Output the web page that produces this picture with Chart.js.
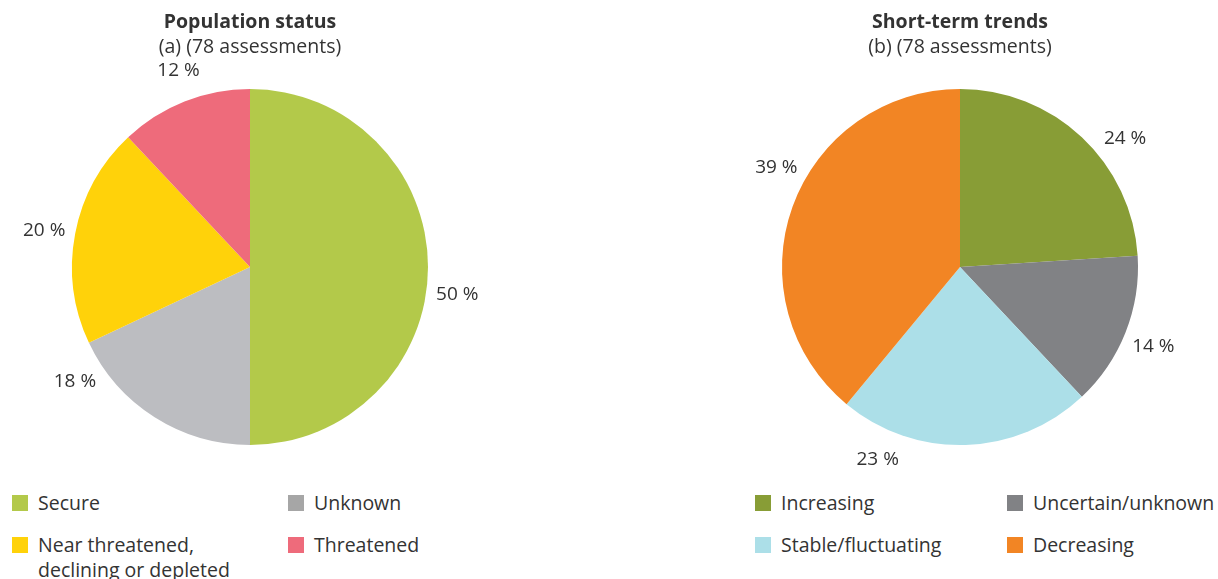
<!DOCTYPE html>
<html>
<head>
<meta charset="utf-8">
<script src="https://cdn.jsdelivr.net/npm/chart.js@4.4.1/dist/chart.umd.min.js"></script>
<style>
  body { margin: 0; background: #fff; font-family: "Open Sans", sans-serif; color: #333; }
  .panel { position: absolute; top: 0; width: 500px; height: 579px; }
  .panel canvas { position: absolute; left: 0; top: 0; }
  .title { position: absolute; top: 8px; left: 0; width: 500px; text-align: center; font-size: 19.5px; line-height: 25px; }
  .title b { font-weight: 700; }
  .legend { position: absolute; top: 490px; font-size: 19.5px; line-height: 25px; }
  .legend .item { position: absolute; white-space: nowrap; }
  .legend .box { position: absolute; left: 0; top: 5px; width: 16px; height: 16px; }
  .legend .txt { position: absolute; top: 0; }
</style>
</head>
<body>

<div class="panel" id="panelA" style="left:0">
  <canvas id="statusChart" width="500" height="470"></canvas>
  <div class="title"><b>Population status</b><br>(a) (78 assessments)</div>
  <div class="legend" id="legendA"></div>
</div>

<div class="panel" id="panelB" style="left:710px">
  <canvas id="trendChart" width="500" height="470"></canvas>
  <div class="title"><b>Short-term trends</b><br>(b) (78 assessments)</div>
  <div class="legend" id="legendB"></div>
</div>

<script>
// population status (a)
const statusLabels = ["Secure", "Unknown", "Near threatened,\ndeclining or depleted", "Threatened"];
const statusValues = [50, 18, 20, 12];
const statusColors = ["#b3c94a", "#bcbdc1", "#ffd20a", "#ee6b7b"];
const statusLegendColors = ["#b3c94a", "#a6a6a6", "#ffd20a", "#ee6b7b"];

// short-term trends (b)
const trendLabels = ["Increasing", "Uncertain/unknown", "Stable/fluctuating", "Decreasing"];
const trendValues = [24, 14, 23, 39];
const trendColors = ["#889d36", "#818285", "#acdfe8", "#f28524"];

// label nudges (degrees, clockwise) so the percentages sit where excel put them
const statusLabelShift = [7.5, 24.5, -0.8, 1.6];
const trendLabelShift = [9, 0.7, 25, 8.7];

// draws "xx %" outside each slice
const outsideLabels = {
    id: "outsideLabels",
    afterDatasetsDraw(chart, args, opts) {
        const ctx = chart.ctx;
        const meta = chart.getDatasetMeta(0);
        const values = chart.data.datasets[0].data;
        ctx.save();
        ctx.font = "19px 'Open Sans'";
        ctx.fillStyle = "#333";
        ctx.textAlign = "center";
        ctx.textBaseline = "middle";
        meta.data.forEach((arc, i) => {
            const p = arc.getProps(["x", "y", "startAngle", "endAngle", "outerRadius"], true);
            const shift = (opts.shift[i] || 0) * Math.PI / 180;
            const mid = (p.startAngle + p.endAngle) / 2 + shift;
            const r = p.outerRadius + opts.offset;
            ctx.fillText(values[i] + " %", p.x + Math.cos(mid) * r, p.y + Math.sin(mid) * r);
        });
        ctx.restore();
    }
};

function makePie(id, labels, values, colors, shift) {
    const ctx = document.getElementById(id).getContext("2d");
    return new Chart(ctx, {
        type: "pie",
        data: {
            labels: labels,
            datasets: [
                {
                    data: values,
                    backgroundColor: colors,
                    borderWidth: 0
                }
            ]
        },
        options: {
            responsive: false,
            animation: false,
            layout: {
                padding: { top: 89, bottom: 25, left: 72, right: 72 }
            },
            plugins: {
                legend: { display: false },
                tooltip: { enabled: false },
                outsideLabels: { offset: 31, shift: shift }
            }
        },
        plugins: [outsideLabels]
    });
}

// two-column legend, order: col1 row1, col2 row1, col1 row2, col2 row2
function makeLegend(id, labels, colors, boxX, textX, colX) {
    const el = document.getElementById(id);
    labels.forEach((label, i) => {
        const col = i % 2;
        const row = Math.floor(i / 2);
        const item = document.createElement("div");
        item.className = "item";
        item.style.left = (boxX + col * colX) + "px";
        item.style.top = (row * 42) + "px";
        const box = document.createElement("span");
        box.className = "box";
        box.style.background = colors[i];
        const txt = document.createElement("span");
        txt.className = "txt";
        txt.style.left = (textX - boxX) + "px";
        txt.innerHTML = label.replace("\n", "<br>");
        item.appendChild(box);
        item.appendChild(txt);
        el.appendChild(item);
    });
}

makePie("statusChart", statusLabels, statusValues, statusColors, statusLabelShift);
makePie("trendChart", trendLabels, trendValues, trendColors, trendLabelShift);
makeLegend("legendA", statusLabels, statusLegendColors, 12, 38, 276);
makeLegend("legendB", trendLabels, trendColors, 45, 71, 252);
</script>
</body>
</html>
